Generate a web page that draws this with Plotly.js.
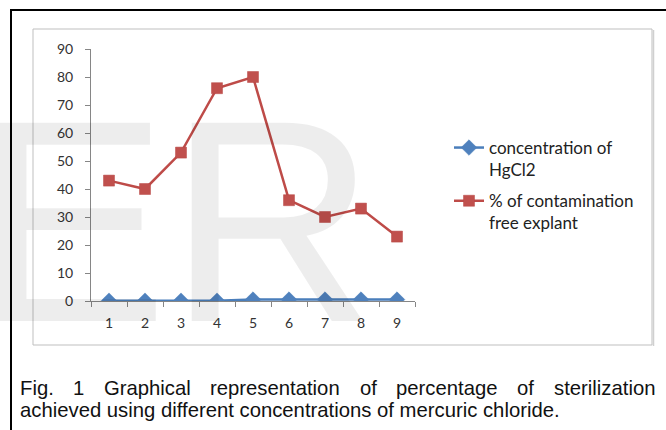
<!DOCTYPE html>
<html>
<head>
<meta charset="utf-8">
<script src="https://cdn.plot.ly/plotly-3.0.1.min.js"></script>
<style>html,body{margin:0;padding:0;background:#fff;}#chart{width:666px;height:430px;}</style>
</head>
<body>
<div id="chart"></div>
<script>
// Data
const categories = ['1','2','3','4','5','6','7','8','9'];
const hgcl2Concentration = [0.1, 0.1, 0.1, 0.1, 0.5, 0.5, 0.5, 0.5, 0.5];
const contaminationFree = [43, 40, 53, 76, 80, 36, 30, 33, 23];
const yTicks = [0,10,20,30,40,50,60,70,80,90];
const seriesNames = ['concentration of<br>HgCl2', '% of contamination<br>free explant'];
const captionLine1 = 'Fig. 1 Graphical representation of percentage of sterilization';
const captionLine2 = 'achieved using different concentrations of mercuric chloride.';

// Layout geometry (pixels)
const W = 666, H = 430;
const L = 91, R = 415, T = 49, B = 301;
const px = v => (v - L) / (R - L);
const py = v => (B - v) / (B - T);

const traces = [
  {
    x: categories, y: hgcl2Concentration, name: seriesNames[0],
    type: 'scatter', mode: 'lines+markers', legendgroup: 'a',
    line: {color: '#4A7EBB', width: 2.5},
    marker: {symbol: 'diamond', size: 12, color: '#4F81BD', line: {color: '#4A7EBB', width: 0.5}}
  },
  {
    x: categories, y: contaminationFree, name: seriesNames[1],
    type: 'scatter', mode: 'lines+markers', legendgroup: 'b',
    line: {color: '#BE4B48', width: 2.5},
    marker: {symbol: 'square', size: 11, color: '#C0504D', line: {color: '#B84744', width: 0.5}}
  }
];

// Justified first caption line: measure words and spread them
const capFamily = 'Liberation Sans, Arial, sans-serif';
const capSize = 20.3;
const capFont = {family: capFamily, size: capSize, color: '#111'};
const ctx = document.createElement('canvas').getContext('2d');
ctx.font = capSize + 'px "Liberation Sans", Arial, sans-serif';
const words = captionLine1.split(' ');
const widths = words.map(w => ctx.measureText(w).width);
const capX0 = 19, capX1 = 654;
const gap = (capX1 - capX0 - widths.reduce((a, b) => a + b, 0)) / (words.length - 1);

const annotations = [
  {
    xref: 'paper', yref: 'paper', x: px(-26), y: py(221), xanchor: 'left', yanchor: 'middle',
    text: 'ER', showarrow: false,
    font: {family: capFamily, size: 288, color: 'rgba(0,0,0,0.07)'}
  }
];
let cx = capX0;
words.forEach((w, i) => {
  annotations.push({
    xref: 'paper', yref: 'paper', x: px(cx), y: py(388), xanchor: 'left', yanchor: 'middle',
    text: w, showarrow: false, font: capFont, borderpad: 0
  });
  cx += widths[i] + gap;
});
annotations.push({
  xref: 'paper', yref: 'paper', x: px(capX0), y: py(410), xanchor: 'left', yanchor: 'middle',
  text: captionLine2, showarrow: false, font: capFont, borderpad: 0
});

const layout = {
  width: W, height: H,
  margin: {l: L, r: W - R, t: T, b: H - B, pad: 0},
  paper_bgcolor: 'rgba(0,0,0,0)', plot_bgcolor: 'rgba(0,0,0,0)',
  font: {family: 'Lato, Open Sans, sans-serif', size: 14, color: '#333'},
  showlegend: true,
  legend: {
    x: px(449), y: py(130), xanchor: 'left', yanchor: 'top',
    bgcolor: 'rgba(0,0,0,0)', font: {family: 'Lato, sans-serif', size: 17, color: '#222'},
    valign: 'top', tracegroupgap: 6, itemwidth: 30
  },
  xaxis: {
    type: 'category', range: [-0.5, 8.5], tickson: 'boundaries',
    showline: true, linecolor: '#868686', linewidth: 1,
    ticks: 'outside', ticklen: 5, tickcolor: '#868686',
    showgrid: false, zeroline: false, fixedrange: true,
    tickfont: {family: 'Lato, sans-serif', size: 14, color: '#333'},
    ticklabelstandoff: 9
  },
  yaxis: {
    range: [0, 90], tickvals: yTicks,
    showline: true, linecolor: '#868686', linewidth: 1,
    ticks: 'outside', ticklen: 5, tickcolor: '#868686',
    showgrid: false, zeroline: false, fixedrange: true,
    tickfont: {family: 'Lato, sans-serif', size: 14, color: '#333'},
    ticklabelstandoff: 9
  },
  shapes: [
    {type: 'line', xref: 'paper', yref: 'paper', x0: px(11), x1: px(11), y0: py(10), y1: py(432), line: {color: '#000', width: 2}},
    {type: 'line', xref: 'paper', yref: 'paper', x0: px(10), x1: px(668), y0: py(10), y1: py(10), line: {color: '#000', width: 2}},
    {type: 'rect', xref: 'paper', yref: 'paper', x0: px(33), x1: px(652), y0: py(29), y1: py(345), line: {color: '#BFBFBF', width: 1}},
    {type: 'line', xref: 'paper', yref: 'paper', x0: px(653.5), x1: px(653.5), y0: py(30), y1: py(346), line: {color: '#D0D0D0', width: 1.5}}
  ],
  annotations: annotations
};

Plotly.newPlot('chart', traces, layout, {displayModeBar: false, staticPlot: true});
</script>
</body>
</html>
